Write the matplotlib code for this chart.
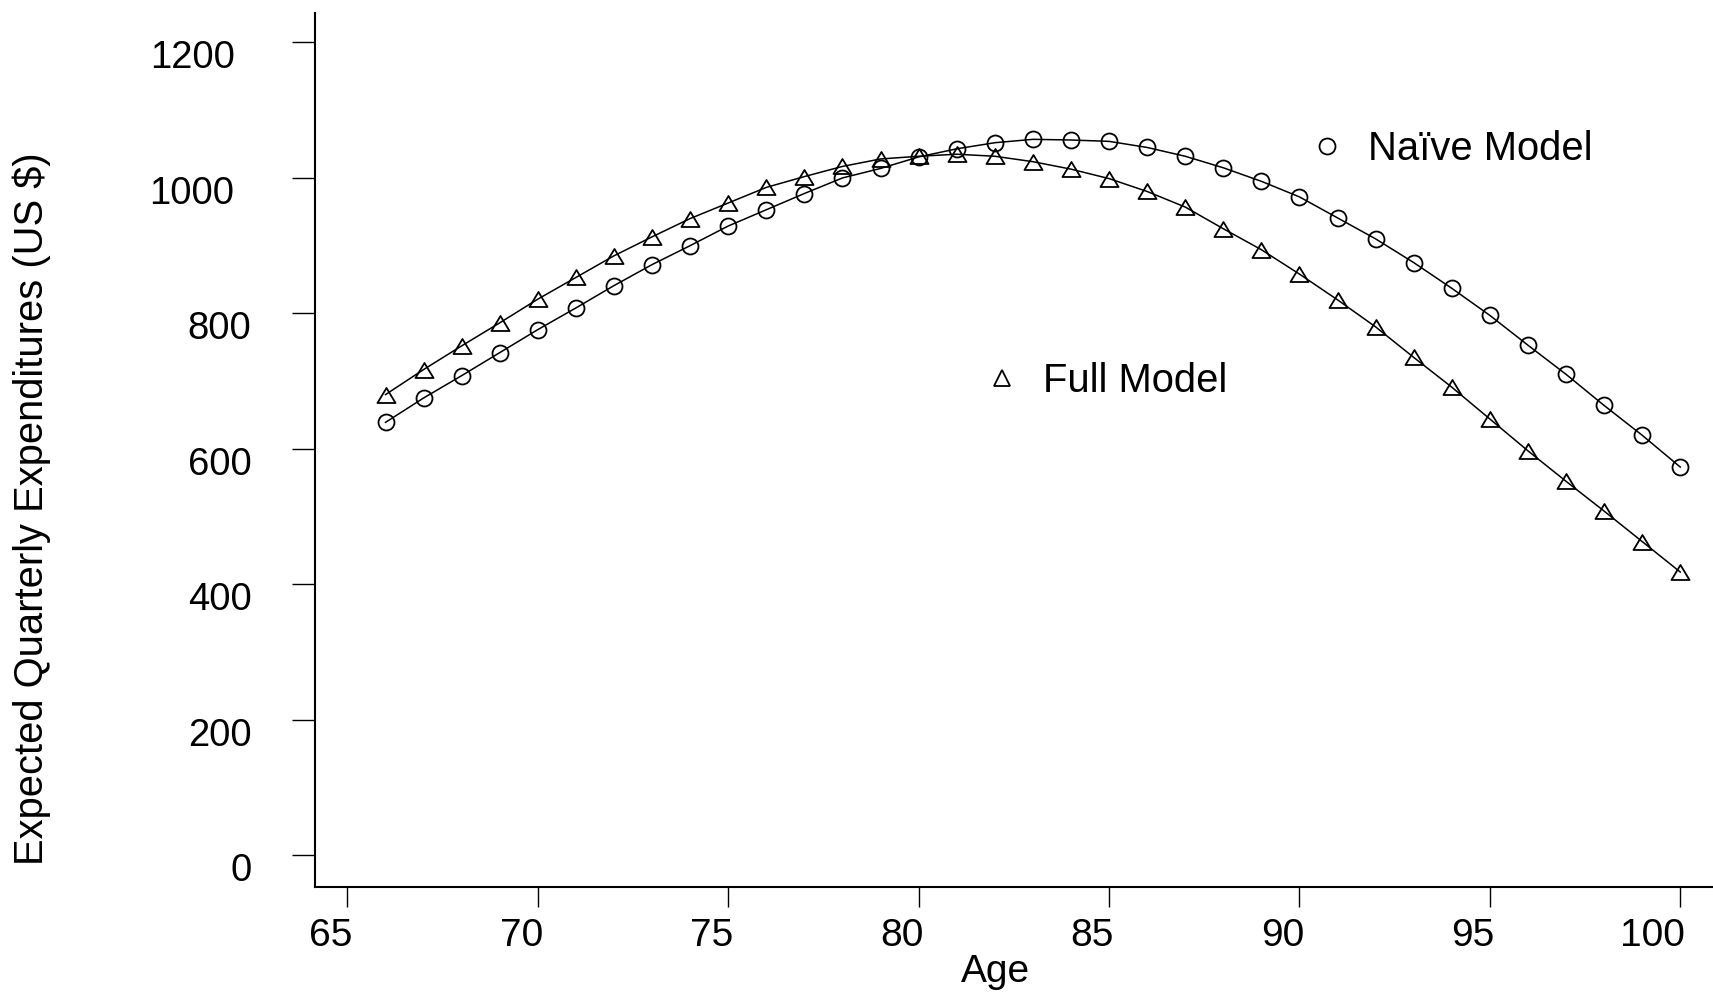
import matplotlib
matplotlib.use("Agg")
from matplotlib import pyplot as plt
from matplotlib.lines import Line2D
from matplotlib.path import Path
from matplotlib.transforms import ScaledTranslation

plt.rcParams['font.family'] = ['Liberation Sans', 'DejaVu Sans']

# Expected quarterly expenditures by age
ages = list(range(66, 101))
naive = [639, 675, 708, 742, 776, 808, 841, 872, 900, 929, 953, 977, 1000, 1014,
         1031, 1043, 1052, 1057, 1056, 1054, 1045, 1032, 1015, 995, 972, 941, 910,
         875, 837, 797, 753, 710, 664, 620, 573]
full = [680, 717, 752, 786, 821, 853, 885, 913, 940, 963, 986, 1002, 1017, 1028,
        1032, 1035, 1032, 1024, 1013, 999, 980, 957, 925, 894, 858, 820, 780,
        735, 691, 644, 597, 552, 508, 463, 418]

xticks = [65, 70, 75, 80, 85, 90, 95, 100]
yticks = [0, 200, 400, 600, 800, 1000, 1200]

fs = 28
# slightly flattened open triangle
tri = Path([(-1, -0.83), (1, -0.83), (0, 0.83), (-1, -0.83)],
           [Path.MOVETO, Path.LINETO, Path.LINETO, Path.CLOSEPOLY])

fig = plt.figure(figsize=(17.13, 9.93), dpi=100)
ax = fig.add_axes([0.1837, 0.107, 1 - 0.1837, 0.987 - 0.107])

ax.plot(ages, naive, color='black', lw=1.1, marker='o', ms=11.5,
        mfc='none', mec='black', mew=1.3)
ax.plot(ages, full, color='black', lw=1.1, marker=tri, ms=13,
        mfc='none', mec='black', mew=1.3)

ax.set_xlim(64.14, 100.86)
ax.set_ylim(-46.8, 1243.7)

for s in ['top', 'right']:
    ax.spines[s].set_visible(False)
for s in ['left', 'bottom']:
    ax.spines[s].set_linewidth(1.5)

ax.set_xticks(xticks, labels=[str(v) for v in xticks])
ax.set_yticks(yticks, labels=[str(v) for v in yticks])
ax.tick_params(axis='y', length=16.6, width=1.0, pad=28.8, labelsize=fs - 0.5)
ax.tick_params(axis='x', length=14.6, width=1.0, pad=8, labelsize=fs)

# odd label placement of the original
for t in ax.get_yticklabels():
    dx = -17 / 100 if len(t.get_text()) == 4 else 0
    t.set_transform(t.get_transform() + ScaledTranslation(dx, -12 / 100, fig.dpi_scale_trans))
for t in ax.get_xticklabels():
    t.set_ha('right')
    t.set_transform(t.get_transform() + ScaledTranslation(5 / 100, 0, fig.dpi_scale_trans))

ax.set_xlabel('Age', fontsize=fs)
ax.set_ylabel('Expected Quarterly Expenditures (US $)', fontsize=28.7)
ax.xaxis.set_label_coords(0.4871, -0.077)
ax.yaxis.set_label_coords(-0.1888, 0.4323)

# two separate keys, placed next to each curve
h_naive = Line2D([], [], ls='none', marker='o', ms=11.5, mfc='none', mec='black', mew=1.3)
h_full = Line2D([], [], ls='none', marker='^', ms=11, mfc='none', mec='black', mew=1.3)
leg1 = ax.legend([h_naive], ['Naïve Model'], loc='center left',
                 bbox_to_anchor=(0.7631, 0.8499), bbox_transform=fig.transFigure,
                 frameon=False, fontsize=28.8, handlelength=1, handletextpad=0.52,
                 borderpad=0, borderaxespad=0)
ax.add_artist(leg1)
ax.legend([h_full], ['Full Model'], loc='center left',
          bbox_to_anchor=(0.5732, 0.6166), bbox_transform=fig.transFigure,
          frameon=False, fontsize=28.8, handlelength=1, handletextpad=0.52,
          borderpad=0, borderaxespad=0)

fig.savefig('out.png', dpi=100)
